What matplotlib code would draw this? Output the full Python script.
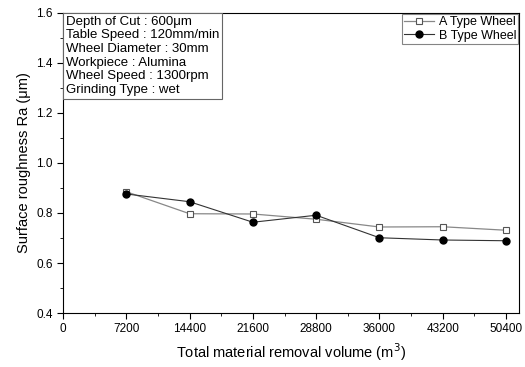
import matplotlib
matplotlib.use("Agg")
import matplotlib.pyplot as plt
from matplotlib.ticker import MultipleLocator

plt.rcParams['font.family'] = ['Liberation Sans', 'DejaVu Sans']

volume = [7200, 14400, 21600, 28800, 36000, 43200, 50400]
ra_a = [0.885, 0.797, 0.796, 0.775, 0.744, 0.745, 0.731]
ra_b = [0.876, 0.845, 0.763, 0.791, 0.701, 0.692, 0.689]
xticks = [0, 7200, 14400, 21600, 28800, 36000, 43200, 50400]

conditions = ("Depth of Cut : 600\u03bcm\n"
              "Table Speed : 120mm/min\n"
              "Wheel Diameter : 30mm\n"
              "Workpiece : Alumina\n"
              "Wheel Speed : 1300rpm\n"
              "Grinding Type : wet")

fig = plt.figure(figsize=(5.25, 3.67), dpi=100)
ax = fig.add_axes([0.12, 0.147, 0.869, 0.818])

ax.plot(volume, ra_a, color='#888888', lw=0.9, marker='s', ms=4.5,
        mfc='white', mec='#555555', mew=0.8, label='A Type Wheel')
ax.plot(volume, ra_b, color='#333333', lw=0.8, marker='o', ms=5,
        mfc='black', mec='black', label='B Type Wheel')

ax.set_xlim(0, 51900)
ax.set_ylim(0.4, 1.6)
ax.set_xticks(xticks)
ax.xaxis.set_minor_locator(MultipleLocator(3600))
ax.yaxis.set_major_locator(MultipleLocator(0.2))
ax.yaxis.set_minor_locator(MultipleLocator(0.1))
ax.tick_params(which='both', direction='out', labelsize=8.5)
ax.tick_params(which='major', length=4)
ax.tick_params(which='minor', length=2.5)
ax.set_yticklabels([f"{v:.1f}" for v in ax.get_yticks()])

ax.set_xlabel("Total material removal volume (m$^3$)", fontsize=10.5)
ax.set_ylabel("Surface roughness Ra (\u03bcm)", fontsize=10.5)

ax.text(0.006, 0.99, conditions, transform=ax.transAxes, va='top', ha='left',
        fontsize=9.5, linespacing=1.18,
        bbox=dict(boxstyle='square,pad=0.2', fc='white', ec='#666666', lw=0.8))

leg = ax.legend(loc='upper right', fontsize=9, frameon=True, fancybox=False,
                borderpad=0.15, handlelength=2.4, labelspacing=0.15,
                handletextpad=0.4, borderaxespad=0.1)
leg.get_frame().set_edgecolor('#666666')
leg.get_frame().set_linewidth(0.8)

fig.savefig("out.png", dpi=100)
